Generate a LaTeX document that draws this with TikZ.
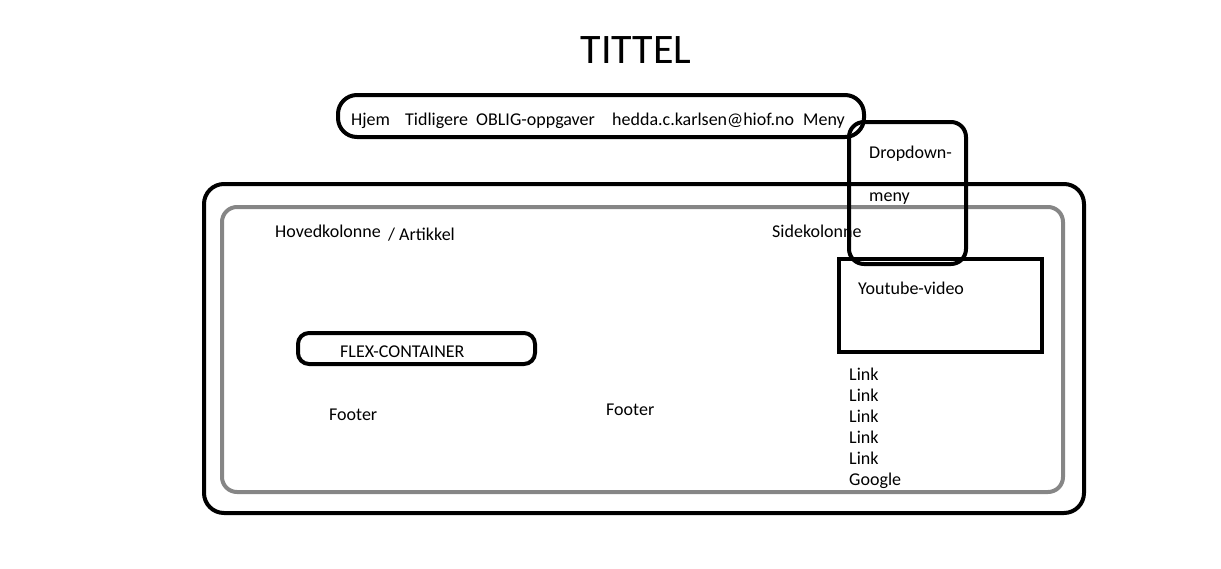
\documentclass[tikz,border=0pt]{standalone}
\usepackage{fontspec}
\setmainfont{Carlito}
\tikzset{
  label/.style={anchor=base west, inner sep=0pt, font=\fontsize{18}{21}\selectfont},
  box/.style={line width=4pt, black},
}
\begin{document}
\begin{tikzpicture}[x=1pt, y=-1pt]
\useasboundingbox (0,0) rectangle (1221,568);
% frames
\draw[line width=4pt, gray!95!white, rounded corners=15pt] (222,207) rectangle (1063,492);
\draw[box, rounded corners=20pt] (204,184) rectangle (1084,513);
\draw[box, rounded corners=19pt] (338,95) rectangle (864,137);
\draw[box, rounded corners=15pt] (849,122) rectangle (966,264);
\draw[box] (839,259) rectangle (1042,352);
\draw[box, rounded corners=11pt] (298,333) rectangle (535,364);
% title and menu
\node (title) at (636,63) [anchor=base, inner sep=0pt, font=\fontsize{42}{48}\selectfont] {TITTEL};
\node (hjem) at (351,125) [label] {Hjem};
\node (tidl) at (405,125) [label] {Tidligere};
\node (oblig) at (476,125) [label] {OBLIG-oppgaver};
\node (mail) at (612,125) [label] {hedda.c.karlsen@hiof.no};
\node (meny) at (803,125) [label] {Meny};
\node (drop) at (869,158) [label] {Dropdown-};
\node (dropb) at (869,201) [label] {meny};
% columns
\node (hoved) at (275,237) [label] {Hovedkolonne};
\node (artikkel) at (388,240) [label] {/ Artikkel};
\node (side) at (772,237) [label] {Sidekolonne};
\node (video) at (858,294) [label] {Youtube-video};
\node (flex) at (340,357) [label] {FLEX-CONTAINER};
\node (foota) at (329,420) [label] {Footer};
\node (footb) at (606,415) [label] {Footer};
\foreach \i in {0,...,4}
  \node (link\i) at (849,380+21*\i) [label] {Link};
\node (google) at (849,485) [label] {Google};
\end{tikzpicture}
\end{document}
